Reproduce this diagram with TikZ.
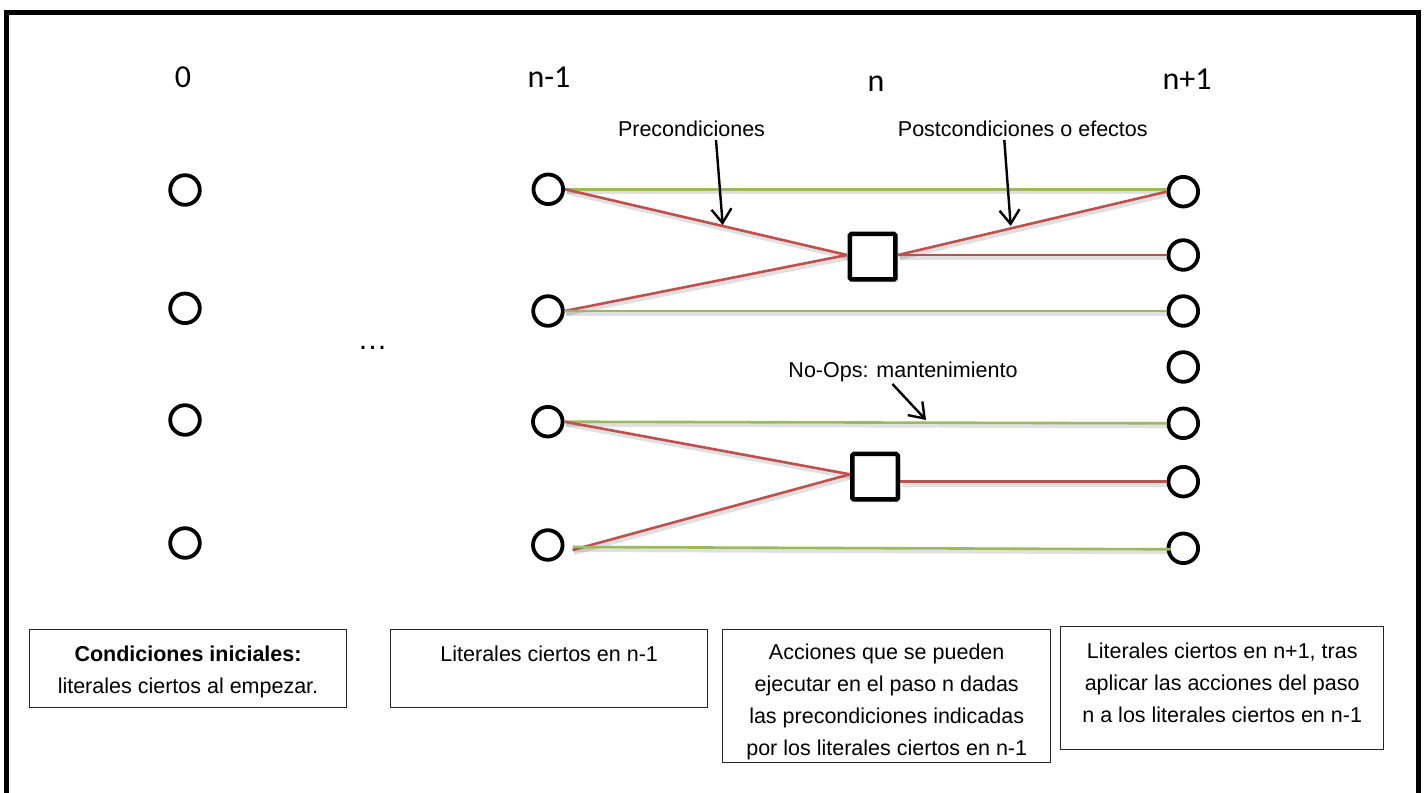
\documentclass[tikz,border=0pt]{standalone}
\usepackage{fontspec}
\setmainfont{Liberation Sans}
\newfontfamily\calfont{Carlito}
\usetikzlibrary{arrows.meta,calc}

\definecolor{noopgreen}{RGB}{155,187,89}
\definecolor{effred}{RGB}{192,80,77}

\begin{document}
\begin{tikzpicture}[x=1pt,y=-1pt,
  lit/.style={circle,draw=black,line width=3.8pt,minimum size=29.6pt,inner sep=0pt},
  act/.style={rectangle,draw=black,line width=4.5pt,minimum size=45.5pt,inner sep=0pt,rounded corners=1.5pt,
    preaction={fill=black,opacity=0.12,transform canvas={shift={(3,3)}}},fill=white},
  lineshadow/.style={preaction={draw=black,opacity=0.12,line width=4pt,transform canvas={shift={(1.5,3)}}}},
  noop/.style={draw=noopgreen,line width=2.6pt,lineshadow},
  eff/.style={draw=effred,line width=2.6pt,lineshadow},
  callout/.style={draw=black,line width=2.4pt,-{Straight Barb[length=14pt,width=20pt]}},
  lvl/.style={font=\calfont\fontsize{32}{38}\selectfont,inner sep=0pt,anchor=base},
  note/.style={font=\fontsize{21.5}{26}\selectfont,inner sep=0pt,anchor=base},
  infobox/.style={draw=black!85,line width=1.4pt,anchor=north west,inner sep=0pt},
  infotext/.style={font=\fontsize{21.5}{32}\selectfont,align=center,anchor=north,inner sep=0pt}
]
\useasboundingbox (0,0) rectangle (1426,792);

% outer frame (open at the bottom)
\draw[line width=4.5pt] (6.3,810) -- (6.3,12.3) -- (1418.7,12.3) -- (1418.7,810);

% level headings
\node[lvl] (h0) at (183,87.5) {0};
\node[lvl] (h1) at (549,88) {n-1};
\node[lvl] (h2) at (876,91.5) {n};
\node[lvl] (h3) at (1187,89.5) {n+1};

% literals at level 0
\node[lit] (z1) at (185,190) {};
\node[lit] (z2) at (185,308.3) {};
\node[lit] (z3) at (185,420) {};
\node[lit] (z4) at (185,543) {};

\node[font=\fontsize{30}{36}\selectfont,inner sep=0pt,anchor=base] (dots) at (372.7,349.5) {…};

% literals at level n-1
\node[lit] (m1) at (548.3,189.3) {};
\node[lit] (m2) at (548,311) {};
\node[lit] (m3) at (547.8,421.7) {};
\node[lit] (m4) at (547.8,545) {};

% literals at level n+1
\node[lit] (p1) at (1183.3,191.7) {};
\node[lit] (p2) at (1183.3,255) {};
\node[lit] (p3) at (1183.3,311) {};
\node[lit] (p4) at (1183.3,367) {};
\node[lit] (p5) at (1183.3,423.3) {};
\node[lit] (p6) at (1183.3,481.7) {};
\node[lit] (p7) at (1183.3,548.3) {};

% connectors: first action (drawn before the square so the square covers their ends)
\coordinate (a1in) at (847,255);
\coordinate (a1out) at (898,255);
\draw[noop] (m1.east) -- (m1.east -| p1.west);
\draw[eff] (m1.east) -- (a1in);
\draw[eff] (m2.east) -- (a1in);
\draw[eff] (a1out) -- (p1.west);
\draw[eff] (a1out) -- (p2.west);
\draw[noop] (m2.east) -- (p3.west);

% connectors: second action
\coordinate (a2in) at (850,474.3);
\coordinate (a2out) at (900,481.7);
\draw[noop] (m3.east) -- (p5.west);
\draw[eff] (m3.east) -- (a2in);
\draw[eff] ($(m4.east)+(8,5)$) -- (a2in);
\draw[eff] (a2out) -- (p6.west);
\draw[noop] ($(m4.east)+(8,2)$) -- ($(p7.west)+(4,1)$);

% actions at level n
\node[act] (a1) at (872.7,256.7) {};
\node[act] (a2) at (875,476.7) {};

% annotations
\node[note] (lpre) at (691.5,136.7) {Precondiciones};
\node[note] (lpost) at (1022.8,136.7) {Postcondiciones o efectos};
\node[note] (lnoop) at (903,377.3) {No-Ops: mantenimiento};

\coordinate (preS) at (716,140);
\coordinate (preT) at (722.7,225);
\coordinate (postS) at (1004.3,140);
\coordinate (postT) at (1010.7,226);
\coordinate (noopS) at (892.4,384);
\coordinate (noopT) at (926,420);
\draw[callout] (preS) -- (preT);
\draw[callout] (postS) -- (postT);
\draw[callout] (noopS) -- (noopT);

% explanation boxes
\node[infobox,minimum width=317.4pt,minimum height=78pt] (b1) at (28.6,629) {};
\node[infobox,minimum width=317pt,minimum height=78pt] (b2) at (390,629) {};
\node[infobox,minimum width=328pt,minimum height=133pt] (b3) at (722,629) {};
\node[infobox,minimum width=323pt,minimum height=123pt] (b4) at (1060,626) {};

\node[infotext] (t1) at ($(b1.north)+(0,17)$) {\textbf{Condiciones iniciales:}\\literales ciertos al empezar.};
\node[infotext] (t2) at ($(b2.north)+(0,17)$) {Literales ciertos en n-1};
\node[infotext] (t3) at ($(b3.north)+(0,15)$) {Acciones que se pueden\\ejecutar en el paso n dadas\\las precondiciones indicadas\\por los literales ciertos en n-1};
\node[infotext] (t4) at ($(b4.north)+(0,17)$) {Literales ciertos en n+1, tras\\aplicar las acciones del paso\\n a los literales ciertos en n-1};
\end{tikzpicture}
\end{document}
